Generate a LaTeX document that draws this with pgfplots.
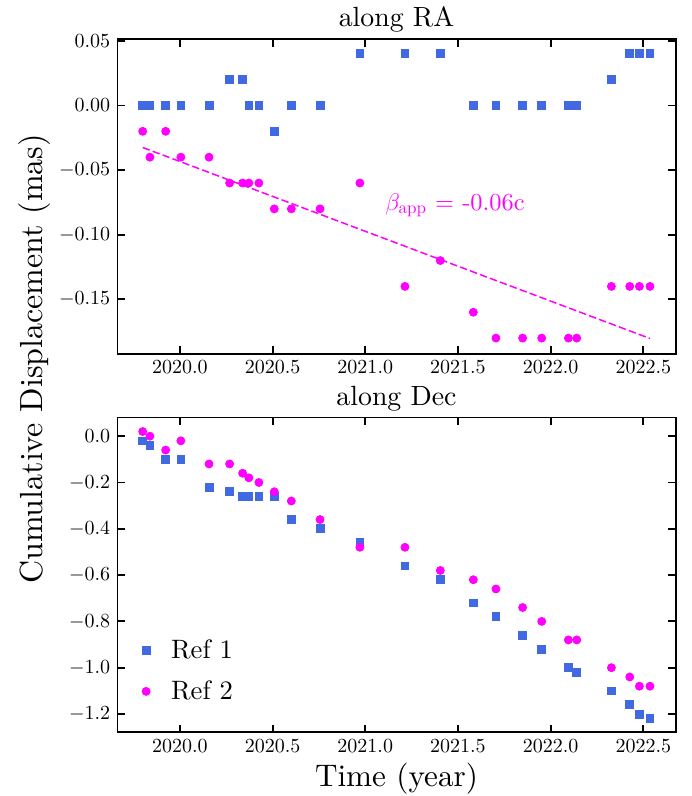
\documentclass[border=0pt]{standalone}
\usepackage{fontspec}
\setmainfont{lmroman10-regular}[Extension=.otf]
\usepackage{pgfplots}
\usepackage{pgfplotstable}
\pgfplotsset{compat=1.18}
\definecolor{rblue}{HTML}{4169E1}
\definecolor{mag}{HTML}{FF00FF}

\pgfplotstableread{
t ra1 ra2 dec1 dec2
2019.799 0 -0.02 -0.02 0.02
2019.838 0 -0.04 -0.04 0.00
2019.923 0 -0.02 -0.10 -0.06
2020.005 0 -0.04 -0.10 -0.02
2020.157 0 -0.04 -0.22 -0.12
2020.268 0.02 -0.06 -0.24 -0.12
2020.338 0.02 -0.06 -0.26 -0.16
2020.372 0 -0.06 -0.26 -0.18
2020.426 0 -0.06 -0.26 -0.20
2020.509 -0.02 -0.08 -0.26 -0.24
2020.601 0 -0.08 -0.36 -0.28
2020.756 0 -0.08 -0.40 -0.36
2020.971 0.04 -0.06 -0.46 -0.48
2021.214 0.04 -0.14 -0.56 -0.48
2021.405 0.04 -0.12 -0.62 -0.58
2021.583 0 -0.16 -0.72 -0.62
2021.705 0 -0.18 -0.78 -0.66
2021.849 0 -0.18 -0.86 -0.74
2021.952 0 -0.18 -0.92 -0.80
2022.096 0 -0.18 -1.00 -0.88
2022.141 0 -0.18 -1.02 -0.88
2022.328 0.02 -0.14 -1.10 -1.00
2022.427 0.04 -0.14 -1.16 -1.04
2022.479 0.04 -0.14 -1.20 -1.08
2022.536 0.04 -0.14 -1.22 -1.08
}\data

\pgfplotsset{
  panel/.style={
    scale only axis,
    width=279.2pt, height=157.4pt,
    anchor=south west,
    xmin=2019.662, xmax=2022.675,
    xtick={2020.0,2020.5,2021.0,2021.5,2022.0,2022.5},
    tick pos=both, tick align=inside,
    major tick length=3.8pt,
    every tick/.style={black, line width=0.9pt},
    axis line style={line width=0.8pt},
    tick label style={font=\fontsize{10.4}{12.5}\selectfont},
    xticklabel style={/pgf/number format/.cd, fixed, fixed zerofill, precision=1, 1000 sep={}},
    clip=false,
  },
}

\begin{document}
\begin{tikzpicture}
\path[use as bounding box] (0,0) rectangle (345.5pt,398pt);

\begin{axis}[panel, at={(58.65pt,221pt)},
  ymin=-0.1923, ymax=0.0513,
  ytick={-0.15,-0.10,-0.05,0,0.05},
  yticklabel style={/pgf/number format/.cd, fixed, fixed zerofill, precision=2}]
\addplot[only marks, mark=square*, mark size=1.95pt, color=rblue] table[x=t, y=ra1] {\data};
\addplot[only marks, mark=*, mark size=2pt, color=mag] table[x=t, y=ra2] {\data};
\addplot[mag, line width=0.75pt, dash pattern=on 3.7pt off 1.6pt] coordinates {(2019.799,-0.0325) (2022.536,-0.1803)};
\node[anchor=base west, inner sep=0, text=mag, font=\fontsize{12.2}{14}\selectfont] at (axis cs:2021.106,-0.081) {$\beta_{\mathrm{app}}$ = -0.06c};
\node[anchor=base, inner sep=0, font=\fontsize{13.9}{16}\selectfont, yshift=6.15pt] at (rel axis cs:0.5,1) {along RA};
\end{axis}

\begin{axis}[panel, at={(58.65pt,31.85pt)},
  ymin=-1.279, ymax=0.0807,
  ytick={-1.2,-1.0,-0.8,-0.6,-0.4,-0.2,0.0},
  yticklabel style={/pgf/number format/.cd, fixed, fixed zerofill, precision=1},
  legend style={draw=none, fill=none, at={(0.033,0.195)}, anchor=west,
    font=\fontsize{13.3}{16}\selectfont, row sep=5.6pt,
    /tikz/every odd column/.append style={column sep=8.5pt}},
  legend cell align=left]
\addplot[only marks, mark=square*, mark size=1.95pt, color=rblue] table[x=t, y=dec1] {\data};
\addlegendentry{Ref 1}
\addplot[only marks, mark=*, mark size=2pt, color=mag] table[x=t, y=dec2] {\data};
\addlegendentry{Ref 2}
\node[anchor=base, inner sep=0, font=\fontsize{13.9}{16}\selectfont, yshift=6.15pt] at (rel axis cs:0.5,1) {along Dec};
\end{axis}

\node[rotate=90, anchor=base, font=\fontsize{16}{19}\selectfont] at (21pt,218.5pt) {Cumulative Displacement (mas)};
\node[anchor=base, font=\fontsize{15.6}{19}\selectfont] at (198.25pt,4.65pt) {Time (year)};
\end{tikzpicture}
\end{document}
